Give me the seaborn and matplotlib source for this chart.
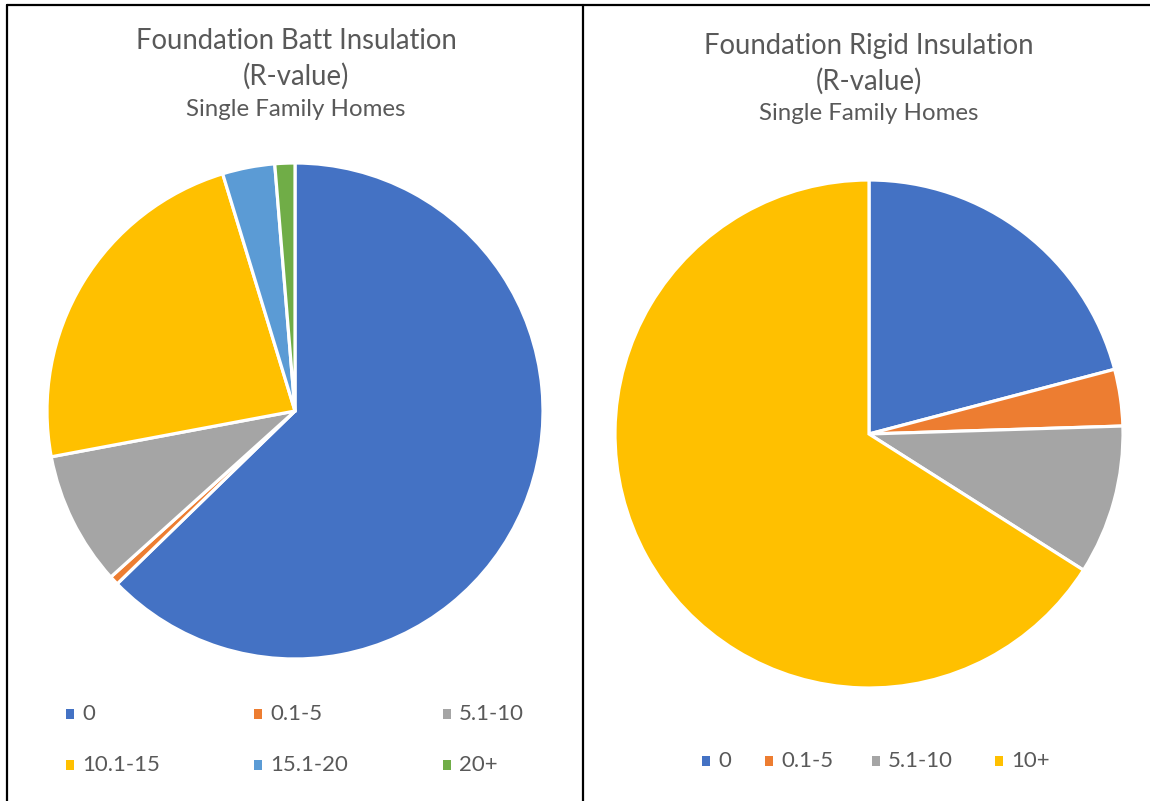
import matplotlib
matplotlib.use("Agg")
import matplotlib.pyplot as plt
import seaborn as sns
from matplotlib.lines import Line2D
from matplotlib.patches import Rectangle

# ---- data ----
batt_categories = ["0", "0.1-5", "5.1-10", "10.1-15", "15.1-20", "20+"]
batt_values = [62.6, 0.6, 8.7, 23.2, 3.4, 1.3]
rigid_categories = ["0", "0.1-5", "5.1-10", "10+"]
rigid_values = [20.9, 3.6, 9.5, 66.0]

batt_title = ["Foundation Batt Insulation", "(R-value)"]
rigid_title = ["Foundation Rigid Insulation", "(R-value)"]
subtitle = "Single Family Homes"

batt_colors = ["#4472C4", "#ED7D31", "#A5A5A5", "#FFC000", "#5B9BD5", "#70AD47"]
rigid_colors = ["#4472C4", "#ED7D31", "#A5A5A5", "#FFC000"]

sns.set_theme(style="white")
plt.rcParams["font.family"] = ["Lato", "DejaVu Sans"]

W, H = 1150, 801
fig = plt.figure(figsize=(W / 100, H / 100), dpi=100)
fig.patch.set_facecolor("white")

TXT = "#595959"


def px_ax(cx, cy, r):
    return fig.add_axes([(cx - r) / W, 1 - (cy + r) / H, 2 * r / W, 2 * r / H])


def fx(x):
    return x / W


def fy(y):
    return 1 - y / H


# left pie
ax1 = px_ax(295, 411, 248)
ax1.pie(batt_values, colors=batt_colors, startangle=90, counterclock=False,
        radius=1, wedgeprops=dict(edgecolor="white", linewidth=2.3))
ax1.set_xlim(-1, 1); ax1.set_ylim(-1, 1); ax1.set_aspect("equal"); ax1.axis("off")

# right pie
ax2 = px_ax(869, 434, 254)
ax2.pie(rigid_values, colors=rigid_colors, startangle=90, counterclock=False,
        radius=1, wedgeprops=dict(edgecolor="white", linewidth=2.3))
ax2.set_xlim(-1, 1); ax2.set_ylim(-1, 1); ax2.set_aspect("equal"); ax2.axis("off")

# titles
TS, SS = 19.8, 17.3
fig.text(fx(296), fy(41), batt_title[0], ha="center", va="center", fontsize=TS, color=TXT)
fig.text(fx(296), fy(76), batt_title[1], ha="center", va="center", fontsize=TS, color=TXT)
fig.text(fx(296), fy(109), subtitle, ha="center", va="center", fontsize=SS, color=TXT)
fig.text(fx(869), fy(46), rigid_title[0], ha="center", va="center", fontsize=TS, color=TXT)
fig.text(fx(869), fy(81), rigid_title[1], ha="center", va="center", fontsize=TS, color=TXT)
fig.text(fx(869), fy(114), subtitle, ha="center", va="center", fontsize=SS, color=TXT)


# legends (manual)
def legend_item(x, y, label, color):
    fig.add_artist(Rectangle((fx(x - 4), fy(y + 5)), 8 / W, 10 / H, transform=fig.transFigure,
                             facecolor=color, edgecolor="none"))
    fig.text(fx(x + 12), fy(y), label, ha="left", va="center", fontsize=16, color=TXT)


left_cols = [70, 258, 447]
left_rows = [714, 765]
for i, (lab, col) in enumerate(zip(batt_categories, batt_colors)):
    legend_item(left_cols[i % 3], left_rows[i // 3], lab, col)

right_cols = [706, 769, 876, 999]
for i, (lab, col) in enumerate(zip(rigid_categories, rigid_colors)):
    legend_item(right_cols[i], 761, lab, col)

# table borders
lw = 1.6
fig.add_artist(Line2D([fx(7), fx(1150)], [fy(5), fy(5)], color="black", lw=lw, transform=fig.transFigure))
fig.add_artist(Line2D([fx(7), fx(7)], [fy(5), fy(801)], color="black", lw=lw, transform=fig.transFigure))
fig.add_artist(Line2D([fx(583), fx(583)], [fy(5), fy(801)], color="black", lw=lw, transform=fig.transFigure))

fig.savefig("out.png", dpi=100, facecolor="white")
